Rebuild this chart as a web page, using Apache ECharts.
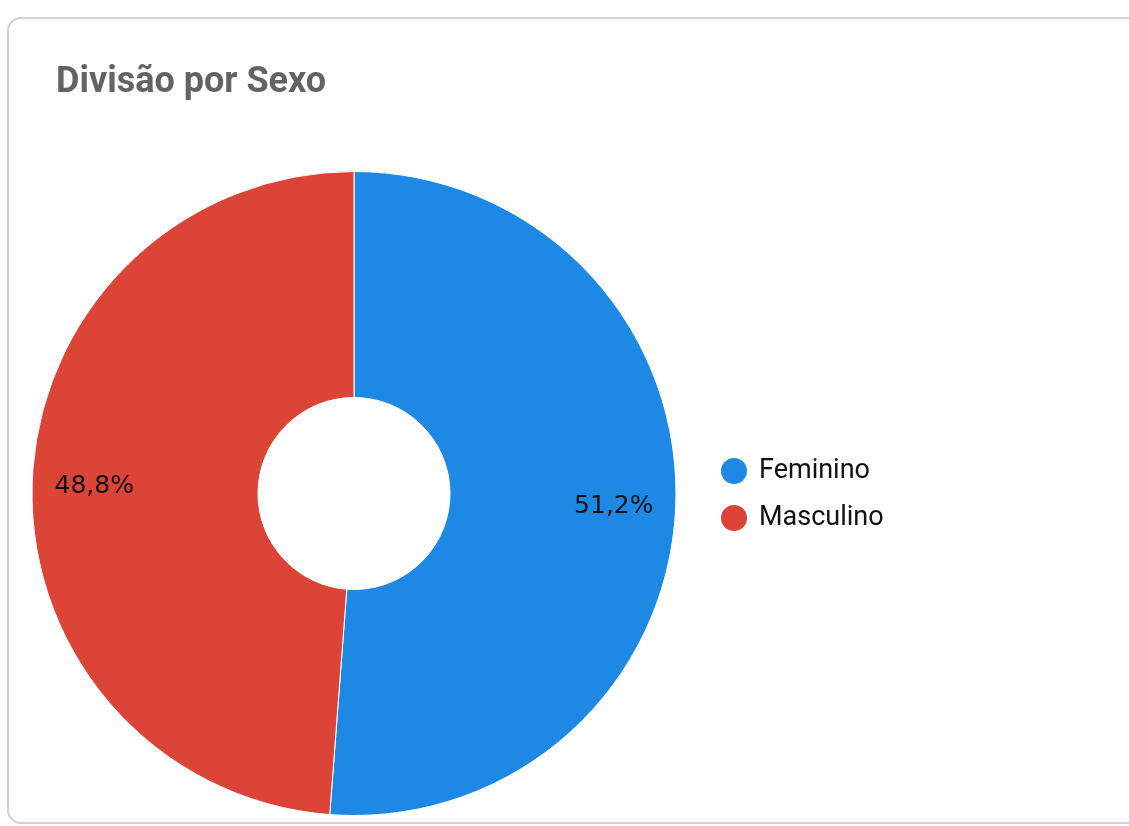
<!DOCTYPE html>
<html>
<head>
<meta charset="utf-8">
<script src="https://cdn.jsdelivr.net/npm/echarts@6/dist/echarts.min.js"></script>
<style>
  html, body { margin: 0; padding: 0; background: #ffffff; overflow: hidden; }
  .card {
    position: absolute; left: 7px; top: 17px; width: 1200px; height: 807px;
    border: 2px solid #d2d2d2; border-radius: 14px; box-sizing: border-box; background: #fff;
  }
  #chart { position: absolute; left: 0; top: 0; width: 1129px; height: 826px; }
</style>
</head>
<body>
<div class="card"></div>
<div id="chart"></div>
<script>
// dados
const categories = ['Feminino', 'Masculino'];
const values = [51.2, 48.8];
const colors = ['#1e88e5', '#db4437'];

const chart = echarts.init(document.getElementById('chart'));
const pieData = categories.map((name, i) => ({ name: name, value: values[i] }));

chart.setOption({
  backgroundColor: 'transparent',
  color: colors,
  title: {
    text: 'Divisão por Sexo',
    left: 51,
    top: 60,
    textStyle: {
      fontFamily: 'Roboto',
      fontWeight: 'bold',
      fontSize: 36,
      color: '#636363'
    }
  },
  legend: {
    orient: 'vertical',
    left: 714,
    top: 451,
    icon: 'circle',
    itemWidth: 28,
    itemHeight: 28,
    itemGap: 17,
    data: categories,
    textStyle: {
      fontFamily: 'Roboto',
      fontSize: 27,
      lineHeight: 28,
      color: '#111',
      padding: [0, 0, 0, 6]
    }
  },
  series: [
    {
      type: 'pie',
      center: [354, 493.5],
      radius: [96, 322],
      startAngle: 90,
      clockwise: true,
      silent: true,
      label: { show: false },
      labelLine: { show: false },
      itemStyle: { borderColor: '#ffffff', borderWidth: 1 },
      data: pieData
    },
    {
      // série só para posicionar os rótulos de percentagem
      type: 'pie',
      center: [354, 493.5],
      radius: [192, 322],
      startAngle: 90,
      clockwise: true,
      silent: true,
      itemStyle: { color: 'transparent' },
      label: {
        show: true,
        position: 'inside',
        fontFamily: 'DejaVu Sans',
        fontSize: 25,
        color: '#111',
        offset: [0, 3],
        formatter: p => p.percent.toFixed(1).replace('.', ',') + '%'
      },
      labelLine: { show: false },
      data: pieData
    }
  ]
});
</script>
</body>
</html>
